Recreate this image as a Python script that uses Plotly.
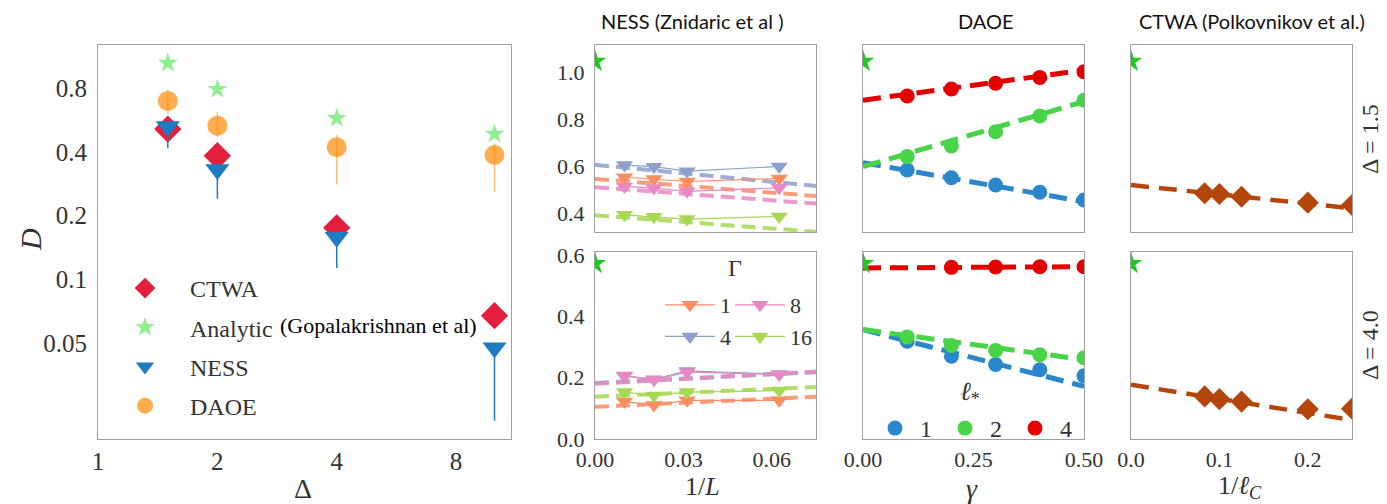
import plotly.graph_objects as go

W, H = 1387, 504

# ---------------- data ----------------
# Left panel: D versus Delta
delta = [1.5, 2, 4, 10]
D_ctwa = [0.512, 0.383, 0.175, 0.0673]
D_analytic = [1.05, 0.789, 0.575, 0.485]
D_ness = [0.527, 0.330, 0.158, 0.0475]
D_ness_err_plus = [0.02, 0.015, 0.006, 0.002]
D_ness_err_minus = [0.11, 0.09, 0.045, 0.026]
D_daoe = [0.695, 0.531, 0.42, 0.386]
D_daoe_err_plus = [0.09, 0.087, 0.06, 0.05]
D_daoe_err_minus = [0.09, 0.06, 0.14, 0.127]
left_xticks = [1, 2, 4, 8]
left_yticks = [0.05, 0.1, 0.2, 0.4, 0.8]

# NESS panels: D versus 1/L, for Gamma = 1, 4, 8, 16
inv_L = [1 / 100, 1 / 50, 1 / 32, 1 / 16]
ness_fit_x = [0.0, 0.075]
# Delta = 1.5
ness15_g1 = [0.552, 0.545, 0.534, 0.547]
ness15_g4 = [0.604, 0.597, 0.578, 0.598]
ness15_g8 = [0.513, 0.506, 0.492, 0.507]
ness15_g16 = [0.392, 0.384, 0.374, 0.385]
ness15_fit_g1 = [0.545, 0.472]
ness15_fit_g4 = [0.605, 0.515]
ness15_fit_g8 = [0.510, 0.440]
ness15_fit_g16 = [0.390, 0.320]
# Delta = 4.0
ness40_g1 = [0.122, 0.111, 0.126, 0.126]
ness40_g4 = [0.205, 0.195, 0.222, 0.212]
ness40_g8 = [0.207, 0.193, 0.218, 0.210]
ness40_g16 = [0.153, 0.142, 0.153, 0.158]
ness40_fit_g1 = [0.105, 0.138]
ness40_fit_g4 = [0.183, 0.218]
ness40_fit_g8 = [0.180, 0.220]
ness40_fit_g16 = [0.138, 0.170]
gamma_labels = ["1", "4", "8", "16"]

# DAOE panels: D versus gamma, for l* = 1, 2, 4
daoe_gamma = [0.1, 0.2, 0.3, 0.4, 0.5]
daoe_fit_x = [0.0, 0.5]
daoe15_l1 = [0.583, 0.550, 0.519, 0.488, 0.455]
daoe15_l2 = [0.640, 0.685, 0.746, 0.813, 0.880]
daoe15_l4 = [0.898, 0.928, 0.952, 0.977, 1.001]
daoe15_fit_l1 = [0.614, 0.448]
daoe15_fit_l2 = [0.597, 0.874]
daoe15_fit_l4 = [0.880, 1.008]
daoe40_l1 = [0.319, 0.270, 0.243, 0.226, 0.206]
daoe40_l2 = [0.333, 0.305, 0.289, 0.275, 0.265]
daoe40_l4 = [None, 0.560, 0.561, 0.562, 0.562]
daoe40_fit_l1 = [0.357, 0.172]
daoe40_fit_l2 = [0.357, 0.259]
daoe40_fit_l4 = [0.558, 0.562]
lstar_labels = ["1", "2", "4"]

# CTWA panels: D versus 1/l_C
ctwa_inv_l = [1 / 12, 1 / 10, 1 / 8, 1 / 5, 1 / 4]
ctwa_fit_x = [0.0, 0.25]
ctwa15 = [0.484, 0.481, 0.469, 0.444, 0.434]
ctwa15_fit = [0.519, 0.420]
ctwa40 = [0.139, 0.130, 0.122, 0.097, 0.099]
ctwa40_fit = [0.177, 0.062]

# analytic value shown at the extrapolation point x = 0
star_x = [0.0]
star15 = [1.045]
star40 = [0.572]

# ---------------- styling ----------------
SERIF = "Liberation Serif, Times New Roman, serif"
SANS = "Lato, Open Sans, sans-serif"
TXT = "#333333"
FRAME = "#a0a0a0"

c_ctwa = "#e41f3d"
c_analytic = "#8fee8f"
c_ness = "#1f7bbf"
c_daoe = "rgba(255,145,20,0.75)"
c_gamma = ["#fc8d62", "#8da0cb", "#e78ac3", "#a6d854"]
c_lstar = ["#2b87cc", "#47d447", "#e30000"]
c_brown = "#b4460c"
c_star = "#1ec81e"


def px_x(p):
    return p / W


def px_y(p):
    return 1 - p / H


fig = go.Figure()

# ---------------- left panel ----------------
fig.add_trace(go.Scatter(x=delta, y=D_ctwa, mode="markers", name="CTWA",
                         marker=dict(symbol="diamond", size=21, color=c_ctwa),
                         xaxis="x", yaxis="y", legendgroup="a"))
fig.add_trace(go.Scatter(x=delta, y=D_analytic, mode="markers", name="Analytic",
                         marker=dict(symbol="star", size=15, color=c_analytic),
                         xaxis="x", yaxis="y", legendgroup="b"))
fig.add_trace(go.Scatter(x=delta, y=D_ness, mode="markers", name="NESS",
                         marker=dict(symbol="triangle-down", size=21, color=c_ness),
                         error_y=dict(type="data", symmetric=False, array=D_ness_err_plus,
                                      arrayminus=D_ness_err_minus, color=c_ness,
                                      thickness=1.5, width=0),
                         xaxis="x", yaxis="y", legendgroup="c"))
fig.add_trace(go.Scatter(x=delta, y=D_daoe, mode="markers", name="DAOE",
                         marker=dict(symbol="circle", size=20, color=c_daoe),
                         error_y=dict(type="data", symmetric=False, array=D_daoe_err_plus,
                                      arrayminus=D_daoe_err_minus, color="rgba(255,145,20,0.6)",
                                      thickness=1.5, width=0),
                         xaxis="x", yaxis="y", legendgroup="d"))

# ---------------- NESS panels ----------------
ness15 = [ness15_g1, ness15_g4, ness15_g8, ness15_g16]
ness15_fit = [ness15_fit_g1, ness15_fit_g4, ness15_fit_g8, ness15_fit_g16]
ness40 = [ness40_g1, ness40_g4, ness40_g8, ness40_g16]
ness40_fit = [ness40_fit_g1, ness40_fit_g4, ness40_fit_g8, ness40_fit_g16]
ness_legends = ["legend2", "legend2", "legend3", "legend3"]

for ax, data, fits, show in (("2", ness15, ness15_fit, False), ("5", ness40, ness40_fit, True)):
    for i in range(4):
        fig.add_trace(go.Scatter(x=ness_fit_x, y=fits[i], mode="lines", showlegend=False,
                                 line=dict(color=c_gamma[i], width=4, dash="14px,7px"),
                                 opacity=0.85, xaxis="x" + ax, yaxis="y" + ax))
    for i in range(4):
        fig.add_trace(go.Scatter(x=inv_L, y=data[i], mode="lines+markers",
                                 name=gamma_labels[i], showlegend=show,
                                 legend=ness_legends[i],
                                 line=dict(color=c_gamma[i], width=1.2),
                                 marker=dict(symbol="triangle-down", size=15, color=c_gamma[i]),
                                 xaxis="x" + ax, yaxis="y" + ax))

# ---------------- DAOE panels ----------------
daoe15 = [daoe15_l1, daoe15_l2, daoe15_l4]
daoe15_fit = [daoe15_fit_l1, daoe15_fit_l2, daoe15_fit_l4]
daoe40 = [daoe40_l1, daoe40_l2, daoe40_l4]
daoe40_fit = [daoe40_fit_l1, daoe40_fit_l2, daoe40_fit_l4]

for ax, data, fits, show in (("3", daoe15, daoe15_fit, False), ("6", daoe40, daoe40_fit, True)):
    for i in range(3):
        fig.add_trace(go.Scatter(x=daoe_fit_x, y=fits[i], mode="lines", showlegend=False,
                                 line=dict(color=c_lstar[i], width=5, dash="18px,9px"),
                                 xaxis="x" + ax, yaxis="y" + ax))
        fig.add_trace(go.Scatter(x=daoe_gamma, y=data[i], mode="markers",
                                 name=lstar_labels[i], showlegend=show, legend="legend4",
                                 marker=dict(symbol="circle", size=15, color=c_lstar[i]),
                                 xaxis="x" + ax, yaxis="y" + ax))

# ---------------- CTWA panels ----------------
for ax, data, fit in (("4", ctwa15, ctwa15_fit), ("7", ctwa40, ctwa40_fit)):
    fig.add_trace(go.Scatter(x=ctwa_fit_x, y=fit, mode="lines", showlegend=False,
                             line=dict(color=c_brown, width=4.5, dash="18px,10px"),
                             xaxis="x" + ax, yaxis="y" + ax))
    fig.add_trace(go.Scatter(x=ctwa_inv_l, y=data, mode="markers", showlegend=False,
                             marker=dict(symbol="diamond", size=17, color=c_brown),
                             xaxis="x" + ax, yaxis="y" + ax))

# ---------------- analytic stars at x = 0 ----------------
for ax, val in (("2", star15), ("3", star15), ("4", star15),
                ("5", star40), ("6", star40), ("7", star40)):
    fig.add_trace(go.Scatter(x=star_x, y=val, mode="markers", showlegend=False,
                             marker=dict(symbol="star", size=17, color=c_star),
                             xaxis="x" + ax, yaxis="y" + ax))

# ---------------- axes ----------------
base = dict(showline=True, mirror=True, linecolor=FRAME, linewidth=1.2, showgrid=False,
            zeroline=False, ticks="", automargin=False,
            tickfont=dict(family=SERIF, size=22, color=TXT))

col_x = {"NESS": [595, 816], "DAOE": [863, 1084], "CTWA": [1131, 1352]}
row_top = [px_y(232), px_y(45)]
row_bot = [px_y(439), px_y(252)]
y_top_range = [0.319, 1.115]
y_bot_range = [0.0, 0.61]

layout_axes = {}
layout_axes["xaxis"] = dict(base, domain=[px_x(98), px_x(511)], type="log",
                            range=[0, 1.0416], tickvals=left_xticks,
                            ticktext=[str(v) for v in left_xticks], anchor="y",
                            tickfont=dict(family=SERIF, size=25, color=TXT))
layout_axes["yaxis"] = dict(base, domain=[px_y(439), px_y(45)], type="log",
                            range=[-1.754, 0.106], tickvals=left_yticks,
                            ticktext=["0.05", "0.1", "0.2", "0.4", "0.8"], anchor="x",
                            ticklabelstandoff=5,
                            tickfont=dict(family=SERIF, size=25, color=TXT))

panels = [
    ("2", "NESS", row_top, y_top_range, [0, 0.075], None, None, True),
    ("3", "DAOE", row_top, y_top_range, [0, 0.5], None, None, False),
    ("4", "CTWA", row_top, y_top_range, [0, 0.25], None, None, False),
    ("5", "NESS", row_bot, y_bot_range, [0, 0.075], [0, 0.03, 0.06], ["0.00", "0.03", "0.06"], True),
    ("6", "DAOE", row_bot, y_bot_range, [0, 0.5], [0, 0.25, 0.5], ["0.00", "0.25", "0.50"], False),
    ("7", "CTWA", row_bot, y_bot_range, [0, 0.25], [0, 0.1, 0.2], ["0.0", "0.1", "0.2"], False),
]
for ax, col, ydom, yr, xr, xtv, xtt, ylab in panels:
    xd = dict(base, domain=[px_x(col_x[col][0]), px_x(col_x[col][1])], range=xr,
              anchor="y" + ax)
    if xtv is None:
        xd["showticklabels"] = False
    else:
        xd["tickvals"] = xtv
        xd["ticktext"] = xtt
    yd = dict(base, domain=ydom, range=yr, anchor="x" + ax)
    if ylab:
        yd["ticklabelstandoff"] = 5
        if yr[1] > 1:
            yd["tickvals"] = [0.4, 0.6, 0.8, 1.0]
            yd["ticktext"] = ["0.4", "0.6", "0.8", "1.0"]
        else:
            yd["tickvals"] = [0.0, 0.2, 0.4, 0.6]
            yd["ticktext"] = ["0.0", "0.2", "0.4", "0.6"]
    else:
        yd["showticklabels"] = False
    layout_axes["xaxis" + ax] = xd
    layout_axes["yaxis" + ax] = yd


# ---------------- annotations ----------------
def ann(text, x, y, size, family=SERIF, color=TXT, angle=0):
    return dict(text=text, x=px_x(x), y=px_y(y), xref="paper", yref="paper",
                showarrow=False, xanchor="center", yanchor="middle", textangle=angle,
                font=dict(family=family, size=size, color=color))


annotations = [
    ann("Δ", 303, 488, 28),
    ann("<i>D</i>", 30, 240, 30, angle=-90),
    ann("(Gopalakrishnan et al)", 378, 325, 22, color="#000000"),
    ann("1/<i>L</i>", 702, 486, 26),
    ann("<i>γ</i>", 972, 488, 28),
    ann("1/<i>ℓ</i><sub><i>C</i></sub>", 1240, 487, 26),
    ann("NESS (Znidaric et al )", 692, 21, 20, family=SANS, color="#111111"),
    ann("DAOE", 986, 21, 20, family=SANS, color="#111111"),
    ann("CTWA (Polkovnikov et al.)", 1252, 21, 20, family=SANS, color="#111111"),
    ann("Δ = 1.5", 1370, 139, 24, angle=-90),
    ann("Δ = 4.0", 1370, 345, 24, angle=-90),
    ann("Γ", 735, 268, 24),
    ann("<i>ℓ</i><sub>*</sub>", 970, 393, 26),
]

fig.update_layout(
    width=W, height=H, margin=dict(l=0, r=0, t=0, b=0, autoexpand=False),
    paper_bgcolor="white", plot_bgcolor="white",
    annotations=annotations,
    legend=dict(x=px_x(100), y=px_y(266), xanchor="left", yanchor="top",
                font=dict(family=SERIF, size=24, color=TXT), bgcolor="rgba(0,0,0,0)",
                tracegroupgap=5, itemsizing="trace", itemwidth=80),
    legend2=dict(x=px_x(660), y=px_y(284), xanchor="left", yanchor="top", itemwidth=50,
                 font=dict(family=SERIF, size=22, color=TXT), bgcolor="rgba(0,0,0,0)"),
    legend3=dict(x=px_x(730), y=px_y(284), xanchor="left", yanchor="top", itemwidth=50,
                 font=dict(family=SERIF, size=22, color=TXT), bgcolor="rgba(0,0,0,0)"),
    legend4=dict(x=px_x(870), y=px_y(406), xanchor="left", yanchor="top",
                 orientation="h", entrywidth=15, itemwidth=40,
                 font=dict(family=SERIF, size=24, color=TXT), bgcolor="rgba(0,0,0,0)"),
    **layout_axes,
)

fig.write_html("out.html")
